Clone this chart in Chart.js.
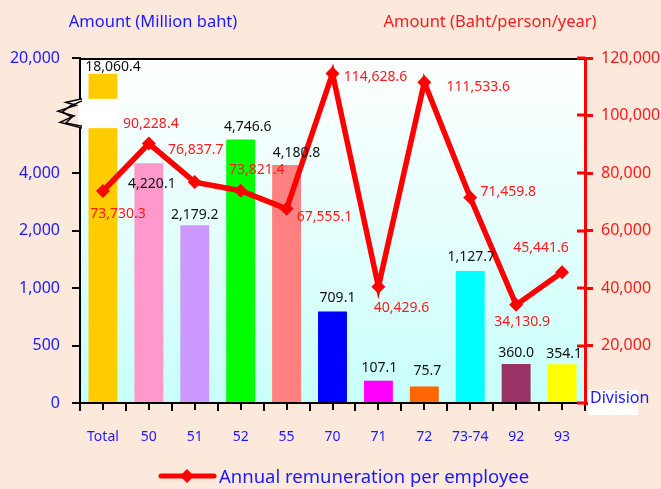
<!DOCTYPE html>
<html>
<head>
<meta charset="utf-8">
<script src="https://cdn.jsdelivr.net/npm/chart.js@4/dist/chart.umd.min.js"></script>
<style>
html,body{margin:0;padding:0;background:#fde8dc;}
#wrap{width:661px;height:489px;}
</style>
</head>
<body>
<div id="wrap"><canvas id="c" width="661" height="489"></canvas></div>
<script>
// ---- data ----
const categories = ['Total','50','51','52','55','70','71','72','73-74','92','93'];
const amountMillionBaht = [18060.4, 4220.1, 2179.2, 4746.6, 4180.8, 709.1, 107.1, 75.7, 1127.7, 360.0, 354.1];
const remunerationPerEmployee = [73730.3, 90228.4, 76837.7, 73821.4, 67555.1, 114628.6, 40429.6, 111533.6, 71459.8, 34130.9, 45441.6];
const leftTickValues = [0, 500, 1000, 2000, 4000, 20000];
const rightTickValues = [0, 20000, 40000, 60000, 80000, 100000, 120000];
const barColors = ['#ffcc00','#ff99cc','#cc99ff','#00ff00','#ff8080','#0000ff','#ff00ff','#ff6600','#00ffff','#993366','#ffff00'];

// broken (piecewise) axis definition: value knots -> axis units
const knotValues = [0, 100, 360, 500, 700, 1000, 1130, 2000, 4000, 5000, 15000, 20000];
const knotUnits  = [0, 0.38, 0.68, 1, 1.58, 2, 2.3, 3, 4, 4.78, 5.29, 6];
const breakLow = 5000, breakHigh = 15000;

// label offsets (px) relative to the element position
const lineLabelOffsets = [[15,23],[2,-20],[1,-32],[16,-21],[38,8],[43,4],[23,21],[54,5],[38,-6],[6,17],[-21,-24]];
const barLabelOffsets = [[10,-7],[3,21],[0,-10],[7,-12],[10,-12],[5,-13],[1,-13],[3,-15],[1,-14],[0,-11],[2,-10]];

const BLUE = '#1a1aff', RED = '#ff1a1a';
const FONT = '"Noto Sans", "DejaVu Sans", sans-serif';

function fmt1(v){ return v.toLocaleString('en-US',{minimumFractionDigits:1,maximumFractionDigits:1}); }
function fmt0(v){ return v.toLocaleString('en-US'); }

function interp(x, xs, ys){
  if (x <= xs[0]) return ys[0];
  for (let i=1;i<xs.length;i++){
    if (x <= xs[i]) { const t=(x-xs[i-1])/(xs[i]-xs[i-1]); return ys[i-1]+t*(ys[i]-ys[i-1]); }
  }
  return ys[ys.length-1];
}

class BrokenScale extends Chart.LinearScale {
  static id = 'broken';
  buildTicks(){ this.start=this.min; this.end=this.max; return leftTickValues.map(v=>({value:v})); }
  getPixelForValue(value){
    const u = interp(value, knotValues, knotUnits);
    const f = u / knotUnits[knotUnits.length-1];
    return this.bottom - f*(this.bottom-this.top);
  }
  getValueForPixel(pixel){
    const f = (this.bottom-pixel)/(this.bottom-this.top);
    const u = f*knotUnits[knotUnits.length-1];
    return interp(u, knotUnits, knotValues);
  }
}
Chart.register(BrokenScale);

function diamond(ctx,x,y,r){
  ctx.beginPath(); ctx.moveTo(x,y-r); ctx.lineTo(x+r,y); ctx.lineTo(x,y+r); ctx.lineTo(x-r,y); ctx.closePath(); ctx.fill();
}

const decor = {
  id:'decor',
  beforeDraw(chart){
    const ctx=chart.ctx, a=chart.chartArea;
    ctx.save();
    ctx.fillStyle='#fde8dc'; ctx.fillRect(0,0,chart.width,chart.height);
    const g=ctx.createLinearGradient(0,a.top,0,a.bottom);
    g.addColorStop(0,'#ffffff'); g.addColorStop(1,'#c8fffa');
    ctx.fillStyle=g; ctx.fillRect(a.left,a.top,a.right-a.left,a.bottom-a.top);
    ctx.restore();
  },
  afterDatasetsDraw(chart){
    const ctx=chart.ctx, a=chart.chartArea;
    const yL=chart.scales.y, yR=chart.scales.y2, x=chart.scales.x;
    const barMeta=chart.getDatasetMeta(1), lineMeta=chart.getDatasetMeta(0);
    ctx.save();
    // top border
    ctx.strokeStyle='#000'; ctx.lineWidth=2;
    ctx.beginPath(); ctx.moveTo(a.left-1,a.top+1); ctx.lineTo(a.right,a.top+1); ctx.stroke();
    // centre ticks on x axis
    ctx.lineWidth=2;
    categories.forEach((c,i)=>{ const px=Math.round(x.getPixelForValue(i)); ctx.beginPath(); ctx.moveTo(px,a.bottom); ctx.lineTo(px,a.bottom+7); ctx.stroke(); });
    // right axis inner tick halves
    ctx.strokeStyle='#ff0000'; ctx.lineWidth=3;
    rightTickValues.forEach(v=>{ const py=Math.round(yR.getPixelForValue(v)); ctx.beginPath(); ctx.moveTo(a.right-8,py); ctx.lineTo(a.right,py); ctx.stroke(); });
    // axis break
    const b0=barMeta.data[0];
    const gTop=yL.getPixelForValue(breakHigh), gBot=yL.getPixelForValue(breakLow);
    ctx.fillStyle='#ffffff';
    ctx.fillRect(a.left-2, gTop, (b0.x+b0.width/2)-(a.left-2)+1, gBot-gTop);
    ctx.strokeStyle='#000'; ctx.lineWidth=1.5;
    const L=a.left, h=gBot-gTop;
    ctx.beginPath();
    ctx.moveTo(L+2,gTop); ctx.lineTo(L-14,gTop+h*0.12); ctx.lineTo(L-4,gTop+h*0.22); ctx.lineTo(L-22,gTop+h*0.42);
    ctx.lineTo(L-6,gTop+h*0.58); ctx.lineTo(L-20,gTop+h*0.8); ctx.lineTo(L+2,gBot);
    ctx.stroke();
    ctx.beginPath();
    ctx.moveTo(L+2,gTop+2); ctx.lineTo(L-10,gTop+h*0.25); ctx.lineTo(L-18,gTop+h*0.45); ctx.lineTo(L-8,gTop+h*0.62);
    ctx.lineTo(L-14,gTop+h*0.82); ctx.lineTo(L+2,gBot-2);
    ctx.stroke();
    // bar labels
    ctx.font='14px '+FONT; ctx.textAlign='center'; ctx.textBaseline='middle'; ctx.fillStyle='#111';
    barMeta.data.forEach((el,i)=>{ const o=barLabelOffsets[i]; ctx.fillText(fmt1(amountMillionBaht[i]), el.x+o[0], el.y+o[1]); });
    // line labels
    ctx.fillStyle=RED;
    lineMeta.data.forEach((el,i)=>{ const o=lineLabelOffsets[i]; ctx.fillText(fmt1(remunerationPerEmployee[i]), el.x+o[0], el.y+o[1]); });
    // axis titles
    ctx.font='16.5px '+FONT;
    ctx.fillStyle=BLUE; ctx.fillText('Amount (Million baht)', 153, 22);
    ctx.fillStyle=RED; ctx.fillText('Amount (Baht/person/year)', 490, 22);
    // Division box
    ctx.fillStyle='#ffffff'; ctx.fillRect(588,390,50,25);
    ctx.fillStyle=BLUE; ctx.textAlign='left'; ctx.font='16px '+FONT;
    ctx.fillText('Division', 590, 398);
    // legend
    ctx.strokeStyle='#ff0000'; ctx.lineWidth=5; ctx.lineCap='round';
    ctx.beginPath(); ctx.moveTo(161,476); ctx.lineTo(214,476); ctx.stroke();
    ctx.fillStyle='#ff0000'; diamond(ctx,187,476,7);
    ctx.fillStyle=BLUE; ctx.font='18.5px '+FONT; ctx.textAlign='left';
    ctx.fillText('Annual remuneration per employee', 219, 478);
    ctx.restore();
  }
};

new Chart(document.getElementById('c'), {
  data: {
    labels: categories,
    datasets: [
      { type:'line', label:'Annual remuneration per employee', data: remunerationPerEmployee, yAxisID:'y2',
        borderColor:'#ff0000', backgroundColor:'#ff0000', borderWidth:5.5, pointStyle:'rectRot', pointRadius:7,
        pointBackgroundColor:'#ff0000', pointBorderWidth:0, tension:0, order:0 },
      { type:'bar', label:'Amount', data: amountMillionBaht, yAxisID:'y', backgroundColor: barColors,
        borderWidth:0, barPercentage:0.63, categoryPercentage:1, order:1 }
    ]
  },
  options: {
    responsive:false, animation:false, devicePixelRatio:1,
    layout:{ padding:{ top:58, left:0, right:0, bottom:0 } },
    plugins:{ legend:{display:false}, tooltip:{enabled:false} },
    scales:{
      x:{ type:'category', offset:true,
        grid:{ offset:true, drawOnChartArea:false, drawTicks:true, tickLength:8, color:'#000', lineWidth:2 },
        border:{ color:'#000', width:2 },
        ticks:{ color:BLUE, font:{ family:FONT, size:14 }, padding:18, maxRotation:0, autoSkip:false },
        afterFit(s){ s.height = 86; } },
      y:{ type:'broken', position:'left', min:0, max:20000,
        grid:{ drawOnChartArea:false, drawTicks:true, tickLength:8, color:'#000', lineWidth:2 },
        border:{ color:'#000', width:2 },
        ticks:{ color:BLUE, font:{ family:FONT, size:16 }, padding:12, autoSkip:false, callback:(v)=>fmt0(v) },
        afterFit(s){ s.width = 80; } },
      y2:{ type:'linear', position:'right', min:0, max:120000,
        grid:{ drawOnChartArea:false, drawTicks:true, tickLength:8, color:'#ff0000', lineWidth:3 },
        border:{ color:'#ff0000', width:3 },
        ticks:{ color:RED, font:{ family:FONT, size:16 }, padding:8, stepSize:20000, autoSkip:false,
          callback:(v)=> v===0 ? '' : fmt0(v) },
        afterFit(s){ s.width = 76; } }
    }
  },
  plugins:[decor]
});
</script>
</body>
</html>
